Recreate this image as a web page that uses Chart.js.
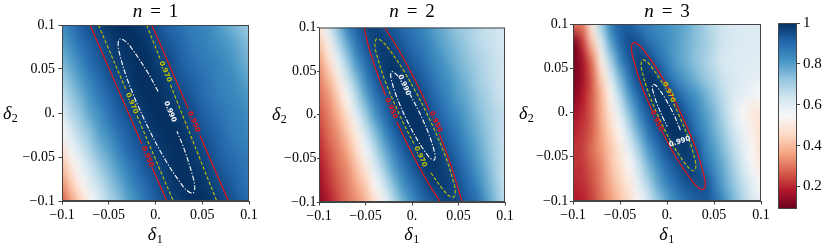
<!DOCTYPE html>
<html>
<head>
<meta charset="utf-8">
<script src="https://cdn.jsdelivr.net/npm/chart.js@4.4.1/dist/chart.umd.min.js"></script>
<style>
  html, body { margin: 0; padding: 0; background: #fff; }
  #wrap { position: relative; width: 831px; height: 249px; overflow: hidden; }
  #wrap canvas { position: absolute; left: 0; top: 0; }
</style>
</head>
<body>
<div id="wrap">
  <canvas id="c1" width="831" height="249"></canvas>
  <canvas id="c2" width="831" height="249"></canvas>
  <canvas id="c3" width="831" height="249"></canvas>
  <canvas id="cb" width="831" height="249"></canvas>
</div>
<script>
// grid coordinates (columns = delta1, rows = delta2 from top to bottom)
const delta1 = [-0.1, -0.09, -0.08, -0.07, -0.06, -0.05, -0.04, -0.03, -0.02, -0.01, 0, 0.01, 0.02, 0.03, 0.04, 0.05, 0.06, 0.07, 0.08, 0.09, 0.1];
const delta2 = [0.1, 0.08, 0.06, 0.04, 0.02, 0, -0.02, -0.04, -0.06, -0.08, -0.1];
const tickVals = [-0.1, -0.05, 0, 0.05, 0.1];
const tickText = ['\u22120.1', '\u22120.05', '0.', '0.05', '0.1'];
const cbTicks = [0.2, 0.4, 0.6, 0.8, 1];
const fMin = 0.09, fMax = 1;

// fidelity, n = 1
const fid1 = [
  [0.83,0.88,0.92,0.95,0.97,0.99,1.00,1.00,0.99,0.97,0.95,0.92,0.90,0.88,0.86,0.85,0.83,0.80,0.77,0.74,0.71],
  [0.80,0.84,0.89,0.92,0.95,0.97,0.99,1.00,1.00,0.99,0.96,0.94,0.92,0.90,0.87,0.86,0.84,0.82,0.80,0.77,0.74],
  [0.76,0.80,0.85,0.90,0.93,0.96,0.98,0.99,1.00,1.00,0.98,0.96,0.94,0.91,0.89,0.87,0.86,0.84,0.82,0.79,0.76],
  [0.71,0.76,0.81,0.86,0.90,0.94,0.96,0.98,1.00,1.00,0.99,0.98,0.95,0.93,0.91,0.89,0.87,0.85,0.84,0.81,0.78],
  [0.66,0.72,0.77,0.82,0.87,0.91,0.94,0.97,0.99,1.00,1.00,0.99,0.97,0.95,0.93,0.90,0.88,0.86,0.85,0.83,0.81],
  [0.61,0.68,0.73,0.79,0.83,0.88,0.92,0.95,0.97,0.99,1.00,1.00,0.99,0.97,0.95,0.92,0.90,0.88,0.86,0.85,0.83],
  [0.55,0.63,0.69,0.74,0.80,0.84,0.89,0.92,0.95,0.98,0.99,1.00,1.00,0.99,0.96,0.94,0.92,0.90,0.87,0.86,0.84],
  [0.48,0.57,0.64,0.70,0.76,0.80,0.85,0.90,0.93,0.96,0.98,0.99,1.00,1.00,0.98,0.96,0.94,0.91,0.89,0.87,0.86],
  [0.41,0.50,0.58,0.65,0.71,0.76,0.81,0.86,0.90,0.94,0.96,0.98,1.00,1.00,0.99,0.98,0.95,0.93,0.91,0.89,0.87],
  [0.34,0.43,0.52,0.60,0.66,0.72,0.77,0.82,0.87,0.91,0.94,0.97,0.99,1.00,1.00,0.99,0.97,0.95,0.93,0.90,0.88],
  [0.27,0.36,0.45,0.53,0.61,0.68,0.73,0.79,0.83,0.88,0.92,0.95,0.97,0.99,1.00,1.00,0.99,0.97,0.95,0.92,0.90]
];
// n = 2
const fid2 = [
  [0.50,0.61,0.73,0.84,0.91,0.96,0.97,0.95,0.93,0.90,0.88,0.85,0.81,0.78,0.75,0.72,0.70,0.67,0.65,0.64,0.62],
  [0.42,0.51,0.66,0.77,0.87,0.93,0.97,0.98,0.96,0.93,0.90,0.87,0.84,0.80,0.77,0.74,0.71,0.68,0.66,0.64,0.62],
  [0.35,0.45,0.58,0.70,0.81,0.89,0.95,0.98,0.99,0.96,0.93,0.90,0.86,0.83,0.79,0.76,0.73,0.70,0.67,0.65,0.63],
  [0.32,0.39,0.49,0.63,0.74,0.84,0.92,0.97,0.99,0.99,0.96,0.93,0.89,0.85,0.82,0.78,0.75,0.71,0.68,0.65,0.63],
  [0.29,0.34,0.43,0.54,0.67,0.78,0.87,0.93,0.98,1.00,0.99,0.96,0.92,0.88,0.84,0.80,0.77,0.73,0.70,0.66,0.64],
  [0.26,0.31,0.38,0.47,0.60,0.71,0.81,0.89,0.95,0.99,1.00,0.99,0.95,0.91,0.87,0.83,0.79,0.75,0.71,0.68,0.65],
  [0.23,0.29,0.34,0.42,0.51,0.64,0.74,0.83,0.91,0.96,0.99,1.00,0.98,0.94,0.90,0.86,0.81,0.77,0.73,0.68,0.65],
  [0.20,0.26,0.31,0.37,0.46,0.57,0.67,0.77,0.85,0.92,0.96,0.99,0.99,0.97,0.93,0.89,0.84,0.79,0.74,0.69,0.65],
  [0.18,0.23,0.29,0.33,0.41,0.49,0.61,0.71,0.80,0.87,0.93,0.97,0.99,0.98,0.96,0.92,0.87,0.81,0.76,0.70,0.65],
  [0.15,0.21,0.26,0.31,0.37,0.43,0.54,0.64,0.74,0.82,0.88,0.93,0.97,0.98,0.97,0.94,0.90,0.85,0.78,0.72,0.65],
  [0.13,0.18,0.24,0.29,0.33,0.39,0.47,0.57,0.67,0.76,0.83,0.89,0.93,0.96,0.97,0.96,0.92,0.89,0.81,0.74,0.66]
];
// n = 3
const fid3 = [
  [0.30,0.31,0.50,0.71,0.85,0.92,0.92,0.88,0.86,0.84,0.82,0.80,0.78,0.74,0.70,0.66,0.63,0.62,0.61,0.61,0.61],
  [0.11,0.23,0.42,0.62,0.79,0.90,0.95,0.94,0.89,0.86,0.83,0.80,0.77,0.74,0.71,0.67,0.64,0.62,0.61,0.60,0.60],
  [0.10,0.17,0.31,0.51,0.70,0.84,0.93,0.97,0.96,0.90,0.85,0.80,0.77,0.73,0.70,0.66,0.62,0.61,0.60,0.60,0.60],
  [0.11,0.16,0.27,0.44,0.61,0.76,0.88,0.96,0.99,0.97,0.90,0.84,0.80,0.76,0.72,0.68,0.64,0.62,0.60,0.59,0.58],
  [0.12,0.18,0.27,0.39,0.53,0.68,0.81,0.91,0.98,1.00,0.98,0.92,0.86,0.82,0.77,0.72,0.66,0.62,0.59,0.57,0.54],
  [0.16,0.20,0.27,0.38,0.49,0.61,0.74,0.85,0.93,0.98,1.00,0.98,0.92,0.86,0.80,0.75,0.68,0.61,0.55,0.50,0.49],
  [0.19,0.22,0.27,0.36,0.45,0.54,0.67,0.78,0.88,0.94,0.99,1.00,0.97,0.89,0.83,0.77,0.71,0.64,0.58,0.52,0.47],
  [0.21,0.23,0.29,0.35,0.42,0.50,0.60,0.71,0.81,0.89,0.95,0.98,0.99,0.95,0.86,0.80,0.74,0.67,0.60,0.54,0.47],
  [0.21,0.22,0.27,0.32,0.41,0.47,0.54,0.65,0.75,0.83,0.90,0.94,0.97,0.97,0.90,0.83,0.77,0.70,0.63,0.56,0.50],
  [0.20,0.21,0.25,0.31,0.38,0.44,0.50,0.60,0.69,0.78,0.85,0.90,0.94,0.95,0.95,0.87,0.79,0.73,0.66,0.60,0.54],
  [0.18,0.19,0.23,0.29,0.35,0.41,0.47,0.54,0.63,0.72,0.79,0.85,0.89,0.92,0.93,0.90,0.83,0.76,0.69,0.62,0.58]
];

// contour pieces [delta1, delta2], split where the inline labels sit
const n1Red = [
  [[-0.070, 0.1], [-0.0147, -0.035]],
  [[-0.0036, -0.062], [0.012, -0.1]],
  [[-0.004, 0.1], [0.035, 0.005]],
  [[0.0473, -0.025], [0.078, -0.1]]
];
const n1Yellow = [
  [[-0.061, 0.1], [-0.031, 0.025]],
  [[-0.0198, -0.003], [0.019, -0.1]],
  [[-0.0095, 0.1], [0.0048, 0.062]],
  [[0.016, 0.032], [0.0655, -0.1]]
];
const n1White = [
  [[0.0028,0.0245],[-0.0078,0.0451],[-0.0266,0.0752],[-0.0335,0.0825],[-0.038,0.0842],[-0.0399,0.0797],[-0.039,0.0696],[-0.0292,0.0355],[-0.0113,-0.009],[0.0098,-0.0521],[0.0286,-0.0822],[0.0355,-0.0895],[0.040,-0.091],[0.0419,-0.0867],[0.041,-0.0766],[0.0312,-0.0425],[0.023,-0.0209]]
];
const n2Red = [
  [[-0.0515,0.1],[-0.0472,0.08],[-0.0415,0.06],[-0.0348,0.04],[-0.0284,0.022]],
  [[-0.0162,-0.008],[-0.0112,-0.02],[-0.002,-0.04],[0.0077,-0.06],[0.0184,-0.08],[0.0305,-0.1]],
  [[-0.0295,0.1],[-0.0174,0.08],[-0.0067,0.06],[0.003,0.04],[0.0122,0.02],[0.0185,0.005]],
  [[0.0294,-0.022],[0.0358,-0.04],[0.0425,-0.06],[0.0482,-0.08],[0.054,-0.1]]
];
const n2Yellow = [
  [[0.0203,-0.0665],[0.0329,-0.0852],[0.04,-0.093],[0.0446,-0.0946],[0.0464,-0.09],[0.0453,-0.0796],[0.0348,-0.0444],[0.0158,0.0018],[-0.0066,0.0464],[-0.0263,0.0774],[-0.0334,0.0852],[-0.038,0.0868],[-0.0398,0.0822],[-0.0387,0.0718],[-0.0282,0.0366],[-0.0092,-0.0096],[0.002,-0.0329]]
];
const n2White = [
  [[-0.015,0.0441],[-0.0191,0.0484],[-0.0218,0.0493],[-0.0229,0.0468],[-0.0224,0.0409],[-0.0167,0.0212],[-0.0063,-0.0046],[0.0061,-0.0294],[0.017,-0.0467],[0.0211,-0.051],[0.0238,-0.0519],[0.0249,-0.0493],[0.0244,-0.0435],[0.0187,-0.0238],[0.0083,0.002],[-0.002,0.0231]]
];
const n3Red = [
  [[-0.0055,-0.0209],[0.0094,-0.0502],[0.0275,-0.0785],[0.0341,-0.0854],[0.0386,-0.0868],[0.0405,-0.0826],[0.0397,-0.0729],[0.0306,-0.0406],[0.0136,0.0015],[-0.0066,0.0422],[-0.0247,0.0705],[-0.0313,0.0774],[-0.0358,0.0788],[-0.0377,0.0746],[-0.0369,0.0649],[-0.0278,0.0326],[-0.0159,0.0021]]
];
const n3Yellow = [
  [[-0.0048,0.0334],[-0.0174,0.053],[-0.0224,0.0582],[-0.0259,0.0593],[-0.0274,0.056],[-0.027,0.0488],[-0.0204,0.0244],[-0.0079,-0.0075],[0.007,-0.0382],[0.0206,-0.0596],[0.0256,-0.0648],[0.029,-0.0659],[0.0306,-0.0626],[0.0302,-0.0554],[0.0236,-0.031],[0.0111,0.0009],[0.0062,0.0117]]
];
const n3White = [
  [[0.0142,-0.0199],[0.0069,-0.0015],[-0.002,0.0161],[-0.0099,0.0283],[-0.0128,0.0313],[-0.0148,0.0319],[-0.0156,0.0301],[-0.0153,0.0259],[-0.0114,0.0119],[-0.0041,-0.0065],[0.0003,-0.0157]]
];

// inline contour labels [delta1, delta2, text, level, angle]
const n1Labels = [[-0.0086,-0.0497,'0.950',0,67],[0.041,-0.0099,'0.950',0,67],[-0.0254,0.011,'0.970',1,67],[0.0104,0.047,'0.970',1,67],[0.0155,0.0015,'0.990',2,67]];
const n2Labels = [[-0.0225,0.0074,'0.950',0,66],[0.0255,-0.008,'0.950',0,66],[0.009,-0.048,'0.970',1,66],[-0.0085,0.034,'0.990',2,66]];
const n3Labels = [[-0.011,-0.0094,'0.950',0,65],[0.002,0.023,'0.970',1,65],[0.0135,-0.033,'0.990',2,-18]];

const levelColor = ['#f50f0f', '#c2c200', '#ffffff'];
const levelDash = [[], [3.5, 2], [5, 1.8, 1.2, 1.8]];

// RdBu colormap
const rdbu = [[103,0,31],[178,24,43],[214,96,77],[244,165,130],[253,219,199],[247,247,247],[209,229,240],[146,197,222],[67,147,195],[33,102,172],[5,48,97]];
function colorAt(v) {
  let t = (v - fMin) / (fMax - fMin);
  t = Math.max(0, Math.min(1, t)) * 10;
  const i = Math.min(9, Math.floor(t)), f = t - i;
  const a = rdbu[i], b = rdbu[i + 1];
  return [0, 1, 2].map(k => Math.round(a[k] + (b[k] - a[k]) * f));
}

const serif = '"Liberation Serif", "DejaVu Serif", serif';

// heat map drawn under the contour lines, placed with the chart scales
function heatPlugin(grid) {
  return {
    id: 'heat',
    beforeDatasetsDraw(chart) {
      const rows = grid.length, cols = grid[0].length;
      const off = document.createElement('canvas');
      off.width = cols; off.height = rows;
      const octx = off.getContext('2d');
      const img = octx.createImageData(cols, rows);
      grid.forEach((row, j) => row.forEach((v, i) => {
        const c = colorAt(v), k = (j * cols + i) * 4;
        img.data[k] = c[0]; img.data[k + 1] = c[1]; img.data[k + 2] = c[2]; img.data[k + 3] = 255;
      }));
      octx.putImageData(img, 0, 0);
      const sx = chart.scales.x, sy = chart.scales.y;
      const hx = (delta1[1] - delta1[0]) / 2, hy = (delta2[0] - delta2[1]) / 2;
      const left = sx.getPixelForValue(delta1[0] - hx), right = sx.getPixelForValue(delta1[cols - 1] + hx);
      const top = sy.getPixelForValue(delta2[0] + hy), bottom = sy.getPixelForValue(delta2[rows - 1] - hy);
      const ctx = chart.ctx, a = chart.chartArea;
      ctx.save();
      ctx.beginPath();
      ctx.rect(a.left, a.top, a.right - a.left, a.bottom - a.top);
      ctx.clip();
      ctx.imageSmoothingEnabled = true;
      ctx.imageSmoothingQuality = 'high';
      ctx.drawImage(off, left, top, right - left, bottom - top);
      ctx.restore();
    }
  };
}

function drawDelta(ctx, x, base, sub) {
  ctx.font = 'italic 18px ' + serif;
  ctx.fillText('\u03b4', x, base);
  const w = ctx.measureText('\u03b4').width;
  ctx.font = '12px ' + serif;
  ctx.fillText(sub, x + w + 0.5, base + 3);
}

function decorPlugin(p) {
  return {
    id: 'decor',
    afterDatasetsDraw(chart) {
      const ctx = chart.ctx, a = chart.chartArea;
      const sx = chart.scales.x, sy = chart.scales.y;
      // contour labels
      p.labels.forEach(([x, y, txt, lev, ang]) => {
        ctx.save();
        ctx.beginPath();
        ctx.rect(a.left, a.top, a.right - a.left, a.bottom - a.top);
        ctx.clip();
        ctx.translate(sx.getPixelForValue(x), sy.getPixelForValue(y));
        ctx.rotate(ang * Math.PI / 180);
        ctx.font = 'bold 7px "DejaVu Sans", sans-serif';
        ctx.fillStyle = levelColor[lev];
        ctx.textAlign = 'center';
        ctx.textBaseline = 'middle';
        ctx.fillText(txt, 0, 0);
        ctx.restore();
      });
      // frame
      ctx.save();
      ctx.strokeStyle = '#444';
      ctx.lineWidth = 1;
      ctx.strokeRect(a.left + 0.5, a.top + 0.5, a.right - a.left - 1, a.bottom - a.top - 1);
      ctx.restore();
    },
    afterDraw(chart) {
      const ctx = chart.ctx, a = chart.chartArea;
      const cx = (a.left + a.right) / 2;
      ctx.save();
      ctx.fillStyle = '#000';
      ctx.textBaseline = 'alphabetic';
      ctx.textAlign = 'left';
      // title  n = k
      ctx.font = 'italic 19px ' + serif;
      const wn = ctx.measureText('n').width;
      ctx.font = '19px ' + serif;
      const we = ctx.measureText('=').width, wk = ctx.measureText(p.n).width;
      const gap = 8;
      let x = cx - (wn + we + wk + 2 * gap) / 2;
      ctx.font = 'italic 19px ' + serif;
      ctx.fillText('n', x, 17);
      x += wn + gap;
      ctx.font = '19px ' + serif;
      ctx.fillText('=', x, 17);
      x += we + gap;
      ctx.fillText(p.n, x, 17);
      // axis titles
      ctx.font = 'italic 18px ' + serif;
      const wd = ctx.measureText('\u03b4').width;
      drawDelta(ctx, cx - (wd + 7) / 2, 240, '1');
      drawDelta(ctx, p.yTitleX, p.yTitleY, '2');
      ctx.restore();
    }
  };
}

function lineSets(pieces, lev) {
  return pieces.map(seg => ({
    data: seg.map(([x, y]) => ({ x, y })),
    showLine: true,
    pointRadius: 0,
    borderWidth: 1.1,
    borderColor: levelColor[lev],
    borderDash: levelDash[lev],
    tension: 0.35,
    fill: false
  }));
}

function makePanel(id, p) {
  const tickFont = { family: serif, size: 14 };
  new Chart(document.getElementById(id), {
    type: 'scatter',
    data: {
      datasets: [].concat(lineSets(p.red, 0), lineSets(p.yellow, 1), lineSets(p.white, 2))
    },
    options: {
      responsive: false,
      animation: false,
      devicePixelRatio: 1,
      events: [],
      layout: { padding: p.pad },
      plugins: { legend: { display: false }, tooltip: { enabled: false } },
      scales: {
        x: {
          type: 'linear', min: -0.1, max: 0.1,
          afterBuildTicks: s => { s.ticks = tickVals.map(v => ({ value: v })); },
          afterFit: s => { s.height = 40; },
          ticks: { callback: (v, i) => tickText[i], font: tickFont, color: '#000', padding: 2, maxRotation: 0, autoSkip: false },
          grid: { drawOnChartArea: false, tickLength: 3.5, color: '#444' },
          border: { color: '#444' }
        },
        y: {
          type: 'linear', min: -0.1, max: 0.1,
          afterBuildTicks: s => { s.ticks = tickVals.map(v => ({ value: v })); },
          afterFit: s => { s.width = 40; },
          ticks: { callback: (v, i) => tickText[i], font: tickFont, color: '#000', padding: p.yPad, autoSkip: false },
          grid: { drawOnChartArea: false, tickLength: p.yTick, color: '#444' },
          border: { color: '#444' }
        }
      }
    },
    plugins: [heatPlugin(p.grid), decorPlugin(p)]
  });
}

makePanel('c1', { grid: fid1, red: n1Red, yellow: n1Yellow, white: n1White, labels: n1Labels, n: '1',
  pad: { left: 22, right: 582, top: 25, bottom: 8 }, yPad: 3.5, yTick: 3.5, yTitleX: 3, yTitleY: 119 });
makePanel('c2', { grid: fid2, red: n2Red, yellow: n2Yellow, white: n2White, labels: n2Labels, n: '2',
  pad: { left: 279, right: 326, top: 27.5, bottom: 7 }, yPad: 0.5, yTick: 2, yTitleX: 272, yTitleY: 120 });
makePanel('c3', { grid: fid3, red: n3Red, yellow: n3Yellow, white: n3White, labels: n3Labels, n: '3',
  pad: { left: 533, right: 70, top: 24, bottom: 8 }, yPad: 1.7, yTick: 3, yTitleX: 519, yTitleY: 119 });

// colour bar
new Chart(document.getElementById('cb'), {
  type: 'scatter',
  data: { datasets: [] },
  options: {
    responsive: false,
    animation: false,
    devicePixelRatio: 1,
    events: [],
    layout: { padding: { left: 778, right: 4, top: 23, bottom: 40 } },
    plugins: { legend: { display: false }, tooltip: { enabled: false } },
    scales: {
      x: { display: false, min: 0, max: 1 },
      y: {
        position: 'right', min: fMin, max: fMax,
        afterBuildTicks: s => { s.ticks = cbTicks.map(v => ({ value: v })); },
        afterFit: s => { s.width = 30; },
        ticks: { callback: v => (v === 1 ? '1' : v.toFixed(1)), font: { family: serif, size: 15 }, color: '#000', padding: 3 },
        grid: { drawOnChartArea: false, tickLength: 3, color: '#444' },
        border: { display: false }
      }
    }
  },
  plugins: [{
    id: 'bar',
    beforeDatasetsDraw(chart) {
      const ctx = chart.ctx, a = chart.chartArea, sy = chart.scales.y;
      const g = ctx.createLinearGradient(0, sy.getPixelForValue(fMax), 0, sy.getPixelForValue(fMin));
      for (let k = 0; k <= 40; k++) {
        const v = fMax - (fMax - fMin) * k / 40;
        const c = colorAt(v);
        g.addColorStop(k / 40, 'rgb(' + c.join(',') + ')');
      }
      ctx.save();
      ctx.fillStyle = g;
      ctx.fillRect(a.left, a.top, a.right - a.left, a.bottom - a.top);
      ctx.strokeStyle = '#444';
      ctx.lineWidth = 1;
      ctx.strokeRect(a.left + 0.5, a.top + 0.5, a.right - a.left - 1, a.bottom - a.top - 1);
      ctx.restore();
    }
  }]
});
</script>
</body>
</html>
